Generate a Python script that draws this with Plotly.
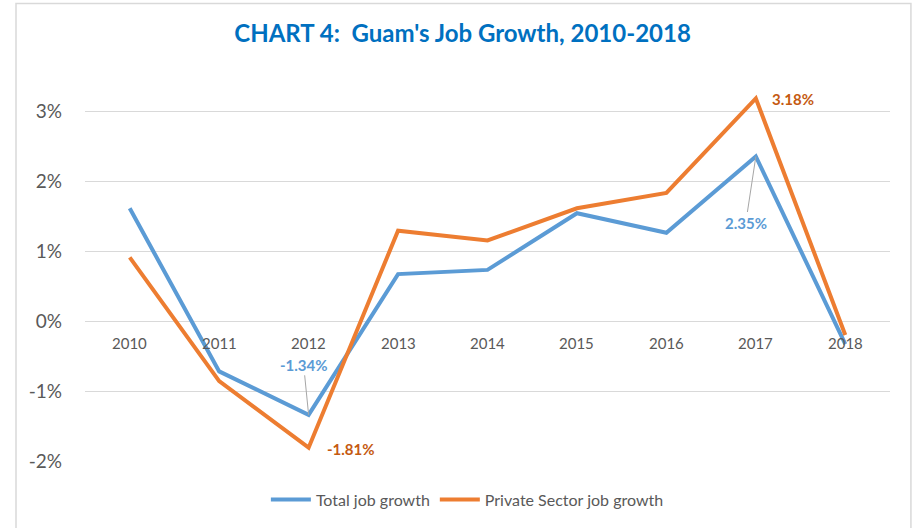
import plotly.graph_objects as go

years = ["2010", "2011", "2012", "2013", "2014", "2015", "2016", "2017", "2018"]
total_growth = [1.61, -0.72, -1.34, 0.67, 0.73, 1.54, 1.26, 2.35, -0.33]
private_growth = [0.91, -0.86, -1.81, 1.29, 1.15, 1.61, 1.83, 3.18, -0.20]
y_ticks = [-2, -1, 0, 1, 2, 3]
y_tick_labels = ["-2%", "-1%", "0%", "1%", "2%", "3%"]

BLUE = "#5B9BD5"
ORANGE = "#ED7D31"
ORANGE_LABEL = "#C55A11"
GRAY = "#595959"
FONT = "Lato"

fig = go.Figure()
fig.add_trace(go.Scatter(x=years, y=total_growth, mode="lines", name="Total job growth",
                         line=dict(color=BLUE, width=4)))
fig.add_trace(go.Scatter(x=years, y=private_growth, mode="lines", name="Private Sector job growth",
                         line=dict(color=ORANGE, width=4)))

annotations = []
# category labels sitting just below the 0% line (x given as category index)
for i, yr in enumerate(years):
    annotations.append(dict(x=i, y=0, xref="x", yref="y", text=yr, showarrow=False,
                            yshift=-22, font=dict(family=FONT, size=15, color=GRAY)))

# data labels
annotations.append(dict(x=2, y=total_growth[2], xref="x", yref="y",
                        text="<b>-1.34%</b>", showarrow=True, arrowhead=0, arrowwidth=1,
                        arrowcolor="#A6A6A6", ax=-5, ay=-50, standoff=0,
                        font=dict(family=FONT, size=15, color=BLUE)))
annotations.append(dict(x=2, y=private_growth[2], xref="x", yref="y",
                        text="<b>-1.81%</b>", showarrow=False, xshift=42, yshift=-1,
                        font=dict(family=FONT, size=15, color=ORANGE_LABEL)))
annotations.append(dict(x=7, y=total_growth[7], xref="x", yref="y",
                        text="<b>2.35%</b>", showarrow=True, arrowhead=0, arrowwidth=1,
                        arrowcolor="#A6A6A6", ax=-10, ay=66, standoff=0,
                        font=dict(family=FONT, size=15, color=BLUE)))
annotations.append(dict(x=7, y=private_growth[7], xref="x", yref="y",
                        text="<b>3.18%</b>", showarrow=False, xshift=37, yshift=-1,
                        font=dict(family=FONT, size=15, color=ORANGE_LABEL)))

fig.update_layout(
    width=916, height=528,
    margin=dict(l=85, r=26, t=76, b=62),
    paper_bgcolor="white", plot_bgcolor="white",
    title=dict(text="<b>CHART 4:  Guam's Job Growth, 2010-2018</b>", x=0.505, xref="container",
               xanchor="center", y=0.937, yanchor="middle",
               font=dict(family=FONT, size=24, color="#0070C0")),
    xaxis=dict(type="category", range=[-0.5, 8.5], showticklabels=False, showgrid=False,
               zeroline=False, showline=False, ticks=""),
    yaxis=dict(range=[-2, 3.5], tickvals=y_ticks, ticktext=y_tick_labels,
               showgrid=True, gridcolor="#D9D9D9", gridwidth=1, zeroline=False,
               showline=False, ticks="", ticklabelstandoff=22,
               tickfont=dict(family=FONT, size=19, color=GRAY)),
    legend=dict(orientation="h", x=0.475, xanchor="center", y=-0.1, yanchor="middle",
                font=dict(family=FONT, size=16, color=GRAY), itemwidth=40,
                traceorder="normal"),
    annotations=annotations,
    shapes=[dict(type="rect", xref="paper", yref="paper", x0=-0.0857, x1=1.026,
                 y0=-0.3, y1=1.188, line=dict(color="#D9D9D9", width=1.5),
                 fillcolor="rgba(0,0,0,0)", layer="below")],
    showlegend=True,
)

fig.write_html("out.html", config={"displayModeBar": False},
               post_script="document.body.style.margin='0';")
